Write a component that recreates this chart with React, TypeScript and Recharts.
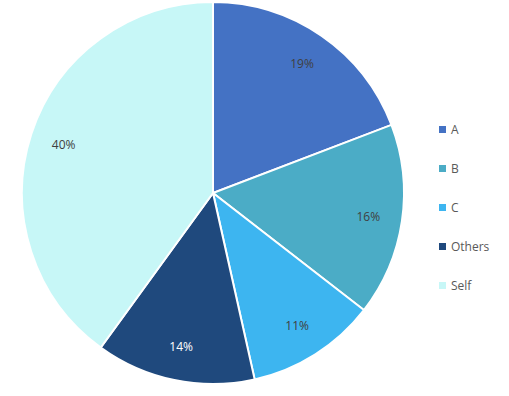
import React from "react";
import { PieChart, Pie, Cell, Legend } from "recharts";

const categories = ["A", "B", "C", "Others", "Self"];
const values = [19.2, 16.3, 11.0, 13.5, 40.0];
const colors = ["#4472C4", "#4BACC6", "#3DB5F0", "#1F497D", "#C7F7F7"];
const labelColors = ["#404040", "#404040", "#404040", "#FFFFFF", "#404040"];

const data = categories.map((name, i) => ({ name, value: values[i] }));

const RAD = Math.PI / 180;

const renderLabel = (props: any) => {
  const { cx, cy, midAngle, index, percent } = props;
  const r = 157;
  const x = cx + r * Math.cos(-midAngle * RAD);
  const y = cy + r * Math.sin(-midAngle * RAD);
  return (
    <text
      x={x}
      y={y}
      fill={labelColors[index]}
      textAnchor="middle"
      dominantBaseline="central"
      fontSize={12}
      fontFamily="'Open Sans', sans-serif"
    >
      {`${Math.round(percent * 100)}%`}
    </text>
  );
};

const renderLegend = () => (
  <div style={{ fontFamily: "'Open Sans', sans-serif", fontSize: 12, color: "#595959" }}>
    {categories.map((c, i) => (
      <div key={c} style={{ display: "flex", alignItems: "center", height: 39 }}>
        <span
          style={{
            display: "inline-block",
            width: 7,
            height: 7,
            background: colors[i],
            marginRight: 5,
          }}
        />
        <span>{c}</span>
      </div>
    ))}
  </div>
);

export default function App() {
  return (
    <div style={{ position: "absolute", left: 0, top: 0, background: "#fff" }}>
      <PieChart width={509} height={396} margin={{ top: 0, right: 0, bottom: 0, left: 0 }}>
        <Pie
          data={data}
          dataKey="value"
          nameKey="name"
          cx={213}
          cy={193}
          outerRadius={191}
          startAngle={90}
          endAngle={-270}
          stroke="#FFFFFF"
          strokeWidth={2}
          label={renderLabel}
          labelLine={false}
          isAnimationActive={false}
        >
          {data.map((d, i) => (
            <Cell key={d.name} fill={colors[i]} />
          ))}
        </Pie>
        <Legend
          content={renderLegend}
          wrapperStyle={{ position: "absolute", left: 439, top: 110, width: 70 }}
        />
      </PieChart>
    </div>
  );
}
